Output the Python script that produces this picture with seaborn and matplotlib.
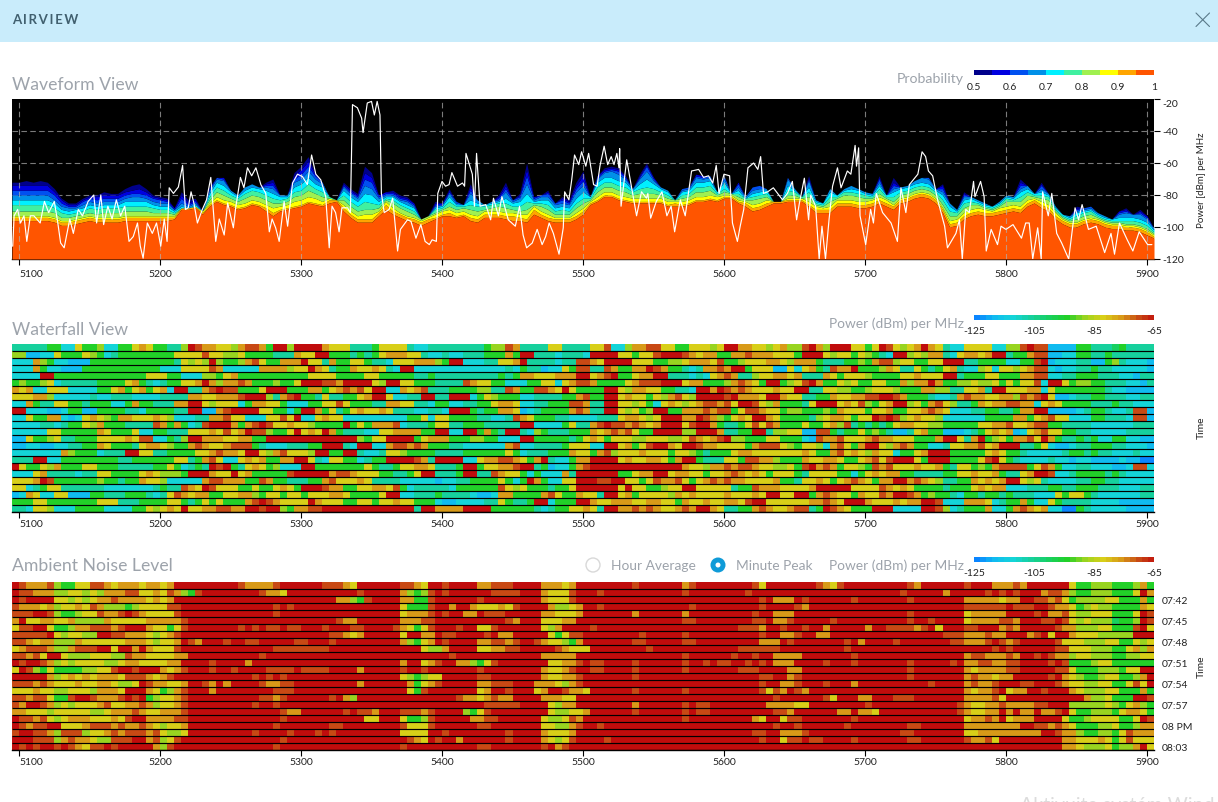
import matplotlib
matplotlib.use('Agg')
import matplotlib.pyplot as plt
from matplotlib.colors import LinearSegmentedColormap, ListedColormap
from matplotlib.patches import Circle, Rectangle
import numpy as np
import seaborn as sns

# x axis of all three panels, 5 MHz steps
freq_start = 5095
freq_step = 5
freq_ticks = [5100, 5200, 5300, 5400, 5500, 5600, 5700, 5800, 5900]
power_ticks = [-120, -100, -80, -60, -40, -20]
time_labels = ['07:42', '07:45', '07:48', '07:51', '07:54', '07:57', '08 PM', '08:03']

probability_labels = ['0.5', '0.6', '0.7', '0.8', '0.9', '1']
power_scale_labels = ['-125', '-105', '-85', '-65']
power_scale_steps = list(range(-125, -65, 2))
# bottom band first: 1, .95, .9 ... .5
band_colors = ['#ff5500', '#ffa500', '#ffff00', '#a0f050', '#40f0a0',
               '#00f0ff', '#0090e8', '#0050f0', '#0000e0', '#00008b']
power_colors = ['#0a85ff', '#10bcf0', '#14d4d8', '#16d09c', '#18d060', '#20d028',
                '#98d420', '#d8d018', '#d89a18', '#c84a14', '#c00c0c']

# dBm at top of the solid orange area, one value every 5 MHz
orange_top = [
    -96, -96, -96, -96, -96, -96, -97, -99, -99, -98, -97, -96, -97, -97, -97, -97, -96, -96, -96, -96,
    -96, -96, -96, -95, -89, -89, -88, -92, -87, -84, -86, -87, -89, -88, -86, -87, -90, -93, -90, -89,
    -88, -87, -85, -86, -87, -85, -84, -90, -94, -97, -97, -97, -93, -89, -92, -94, -96, -97, -99, -97,
    -95, -93, -93, -94, -93, -96, -97, -94, -94, -94, -95, -96, -96, -97, -92, -94, -96, -97, -97, -97,
    -95, -92, -86, -84, -81, -81, -83, -84, -85, -85, -85, -85, -85, -87, -87, -87, -86, -84, -84, -83,
    -84, -82, -82, -85, -87, -90, -89, -87, -85, -85, -84, -84, -84, -87, -91, -91, -91, -87, -87, -87,
    -88, -88, -87, -85, -87, -89, -85, -84, -82, -81, -82, -85, -91, -100, -99, -95, -93, -92, -93, -93,
    -92, -91, -90, -91, -87, -85, -88, -90, -95, -98, -100, -100, -98, -97, -98, -100, -101, -101, -102, -102,
    -103, -105, -107,
]

# dB thickness of the nine bands above orange at each 5 MHz step (one digit per band)
band_spread = """
213433332 213433332 213433333 213433332 213433333 213433332 213332322 212322221 212222111 212221111
212222211 212322211 212322221 213322222 213322221 213322221 213332222 213333223 213333233 213332222
212322211 212222211 212222111 111111010 100012322 100001112 100011111 110000000 112222110 123332100
123333110 122221000 122211000 123322000 123322000 123321000 223332111 233333222 122221000 122211000
133333222 133343332 134444333 133333211 123332100 210100000 100000000 223332111 223332111 223332111
233555444 233454433 212222110 321111110 223221111 213221111 213222111 212221110 211000000 211000000
121211111 121111010 222332111 122211100 122110000 223334222 223322000 221210000 222211000 223211111
223334222 322221100 222332111 233556544 321111110 223222100 223332211 212222100 212322211 212222111
223334222 223344333 111110000 123332110 123333111 123334111 123334211 123332110 122211000 123333111
123455311 123332110 122221000 122221000 211000000 122221100 122221100 123333110 123332110 123332100
121110000 112242200 111000000 112222210 211101000 223222200 223222200 222221000 100000000 100000000
112334100 112211000 110100000 123334111 221111000 211110000 223332000 221110000 223211000 223222000
223221000 222211000 221111000 222322211 221110000 212332223 212221000 212221000 212222000 212223000
212223100 212211000 212332221 223332000 222211000 223322111 223221000 222111000 221111000 211110000
221111000 223211000 222111000 223332222 223222000 211110000 222222211 223211000 221111000 211110000
211111000 212221111 212211100 212211100 211111000 211111000 211110000 211122110 211223111 211222000
211223111 211222110 111111000
""".split()

# white peak trace, (MHz, dBm)
white_trace = [
    (5095.5, -112), (5096.5, -93), (5099, -89), (5101, -97.5), (5103.5, -93), (5105.5, -109), (5108, -93),
    (5110.5, -93), (5115, -97.5), (5118, -84), (5121, -91), (5125, -84), (5127.5, -97.5), (5129.5, -110),
    (5132, -113), (5134, -104), (5136, -95), (5138.5, -104), (5142, -89), (5145, -93), (5149, -84),
    (5153, -80), (5155, -97.5), (5158, -80), (5160, -98.5), (5163, -87), (5166, -95), (5169, -83),
    (5172, -93), (5175, -87), (5178, -109), (5181, -106), (5184, -97.5), (5186, -112), (5188, -119.5),
    (5191, -97.5), (5194.5, -104), (5197.5, -97.5), (5200.5, -112), (5203, -95), (5205, -109), (5206.5, -75.5),
    (5209.5, -79), (5213, -75), (5216, -61.5), (5218, -89), (5220, -88), (5222, -78), (5224, -85),
    (5226.5, -97.5), (5230, -89), (5233, -83), (5236, -69), (5239.5, -109), (5242, -95), (5245.5, -105),
    (5248, -85), (5252, -100.5), (5253.5, -89), (5257, -69), (5259.5, -75.5), (5262, -63), (5265, -68),
    (5268, -63), (5271.5, -73.5), (5275, -79), (5277.5, -103), (5279.5, -95), (5282, -100.5), (5284.5, -109),
    (5288, -84), (5290.5, -99.5), (5294, -72.5), (5297.5, -67), (5301, -68.5), (5304.5, -73.5), (5307.5, -55),
    (5310.5, -67), (5314, -70.5), (5317.5, -81), (5320, -113), (5322, -87), (5324.5, -91), (5327, -103),
    (5329, -88), (5333, -88), (5335, -91), (5336.5, -23.5), (5340, -25.5), (5343, -32), (5344, -41),
    (5347, -22.5), (5350, -21.5), (5352, -30), (5354, -21.5), (5356, -30), (5357, -79), (5359, -91),
    (5362.5, -89), (5365, -82), (5368.5, -115), (5370.5, -101.5), (5375.5, -95.5), (5378, -96.5), (5381.5, -107),
    (5385, -98.5), (5388, -109), (5391, -111), (5393, -108), (5396, -109), (5397, -79), (5400, -71.5),
    (5402.5, -74.5), (5405, -73.5), (5407, -66), (5411, -74.5), (5414.5, -72.5), (5416, -74.5), (5417, -54),
    (5421.5, -67), (5423, -87), (5424.5, -54), (5427, -87), (5431, -86), (5434.5, -95.5), (5436.5, -82),
    (5440, -93), (5442.5, -81), (5447, -95.5), (5452, -99.5), (5455, -87), (5457.5, -105), (5460, -113),
    (5464, -110), (5467.5, -101.5), (5471, -111), (5473.5, -106), (5476, -97.5), (5479, -104), (5483, -117),
    (5486, -100.5), (5487, -78), (5490, -83), (5492, -70.5), (5494, -55), (5497, -61), (5499, -53),
    (5502, -62), (5504, -54), (5507.5, -73.5), (5510, -74.5), (5512, -62), (5515, -49.5), (5517.5, -61),
    (5520, -56), (5522, -61), (5524, -54), (5525.5, -63), (5526, -51), (5527, -87), (5531, -58),
    (5534.5, -75.5), (5538, -93), (5541.5, -78), (5545, -82), (5546, -79), (5548, -94.5), (5552, -84),
    (5556, -78), (5559.5, -93), (5562.5, -87), (5565, -103), (5569, -83), (5572.5, -93), (5577, -65),
    (5582, -64), (5585.5, -69), (5589, -68), (5592, -72.5), (5594.5, -61.5), (5596.5, -79), (5600, -67),
    (5604, -68), (5606, -97.5), (5609.5, -109), (5611.5, -99.5), (5614, -89), (5617, -63), (5621, -60),
    (5624, -64), (5626, -56), (5628, -79), (5631, -78), (5635, -75.5), (5641.5, -83), (5645, -79),
    (5648.5, -71.5), (5651.5, -95.5), (5653.5, -85), (5657, -69.5), (5660, -95.5), (5661.5, -80), (5665, -87),
    (5667.5, -120), (5669.5, -99.5), (5672, -120), (5674.5, -95.5), (5677, -74.5), (5680.5, -63), (5683, -75.5),
    (5687.5, -65), (5690, -67), (5693, -49), (5694, -62), (5695.5, -50.5), (5696.5, -93), (5700.5, -111),
    (5704, -89), (5706, -97.5), (5708, -79), (5712.5, -91), (5718.5, -97.5), (5723, -109), (5725.5, -75.5),
    (5729, -91), (5731.5, -73.5), (5737.5, -67), (5740.5, -53), (5743, -56), (5745, -65), (5748, -68),
    (5751.5, -83), (5756.5, -99.5), (5758.5, -113), (5764.5, -104), (5767, -95.5), (5769, -120), (5771.5, -89),
    (5774, -91), (5777, -71.5), (5778, -81), (5782, -71.5), (5784.5, -81), (5786, -115), (5789.5, -101.5),
    (5794, -111), (5796.5, -99.5), (5800, -101.5), (5805, -98.5), (5811, -107), (5814, -97.5), (5816.5, -97.5),
    (5819, -120), (5822.5, -100.5), (5825, -120), (5826, -78), (5830, -93), (5832.5, -79), (5836, -104),
    (5839.5, -110), (5844.5, -120), (5849, -88), (5851.5, -95.5), (5854, -86), (5858.5, -101.5), (5864, -99.5),
    (5870, -116), (5874.5, -104), (5877, -117), (5880.5, -97.5), (5886, -108), (5890, -115), (5894.5, -103),
    (5900.5, -111), (5903.5, -111),
]

# heatmap rows: one hex digit per 5 MHz cell, power = -125 + 6 * digit
waterfall_rows = [
    "3333355227 5562255787 55336a9887 7689985aa6 aaaa877733 3577773223 3333333566 9833337733 3377922688 9977557776 7aa8877678 669a86aaa7 757a97678a 8732277772 2669a99111 1553334533 33",
    "6611227555 7652355555 5557777977 6675555333 877aa55535 3578887732 2322333555 85aa333233 32aaaa7757 79aaa98788 5588988877 75aaa76775 76532aa676 883278878a a355899112 2553353333 33",
    "2228652211 1555555555 555376 76a6 5568975588 8a77385577 5332777888 65aa222337 78a3333233 9987aaaa77 7556678887 9556777887 6888533355 6589967755 77aaa33555 522559a122 2331156322 21",
    "2228522111 5555555555 5222777798 2222288886 77a8735587 78732aa222 2222222222 3253312275 9933985588 a985532388 98aa577711 727853988a 5556873375 3578322672 7767899212 2335332222 21",
    "2222aa5555 5555555557 7755222665 7855555555 5577775555 7755555335 3333333335 3588777888 aa789a5578 8aa3332327 8983367788 7833387577 7655557787 77aa355577 5558899223 3555333221 33",
    "5655672333 3355557853 2355778a86 8898555655 7aaa998aaa a76aa77555 3333987755 2225577278 9985555789 99aaa78855 5689875aa5 679a855767 5577558688 a855667667 575779 2aa7 5665533322 13",
    "8782277722 2255785785 782aa3389a 995557aaa5 5588578989 7aa2287893 3355556633 9855998 7a7 5555aa7688 7755332aa8 a989877787 7aa3377665 5677765558 866337783a a777882755 5555532211 11",
    "7778862222 2322333222 2333388778 889aaa6389 a553733557 8aa72233aa 33aaa25765 5522333355 8955aa7877 57689 76aaa a9a8887aa8 7733558778 899aa98555 3223898877 8869 89a711 2335533322 33",
    "2285337755 3555225855 33388aa767 7725887752 2255779755 5338877332 5522335578 8722335559 9833aa7767 5278767899 897aa97685 5537aaa787 96578aa675 8976335878 8998827875 5553335332 22",
    "aa22211255 1155553325 55533aa118 9aaaa77552 5aa8573578 7787333223 32aaa53558 8712355558 9833aa7675 6aa5588898 9957998775 6655565877 7577855778 9872223355 33588aa111 1235532239 91",
    "2275588212 7876588777 8762223388 9772227797 a227877222 2222225572 7755553322 3987555332 2223337887 67aaa88a98 65787aa875 5553678875 77a9a96787 7622222255 5588578977 2225533329 91",
    "2222332355 7685553333 9858523 9aa a8589a9778 7765555a57 5888923335 7733555333 33aa222257 3389a99898 78aaa79aa8 5335797985 5575578693 5353578877 6655555778 8977899553 3332222223 33",
    "2222277555 5587555722 5533377787 978a996557 a787a85333 2277888855 aa22aa5853 aa32653335 5587898975 5aaaa66aaa 83355aa366 7711995355 7565311378 5511123578 7812789775 5332222233 33",
    "1175567335 5577778799 22536aa888 778855aaaa aaaaaaaaa6 577aaaa578 8855566552 22aa555553 5787577766 7776679878 9a66555775 5521988977 7898877755 58aa738a56 7588 97a853 3535225522 11",
    "1122112233 5587555378 8765589877 8999532223 3355aaa32a a228998985 5533222222 8922333357 7722aa7857 9aa87aa988 7777589997 6577628975 8aa7689855 2237788978 aaa3357211 2335553322 21",
    "2222222865 5523 33aa77 3355557789 887aa76897 776aa55aa3 2237765555 3333555555 7523335558 7758967778 7775776535 5578877777 7787558978 7687725578 aaa5555578 7553222223 5535332223 22",
    "333aa22555 5555533555 5557735897 2278785588 aa73277552 355aaaa983 aaaa227889 98758a3225 88aaaa7877 88758aa533 3775998865 5587788755 78979aaa75 aaa555579a 7532222322 1221111211 00",
    "a755768555 7755533333 5575235 3a9 a537875622 2aa5555555 7533577887 3335aa5778 89aa351225 89aaaaaaaa aaaaa87768 8989987766 759a898577 6598977787 7853775658 9999579852 2332221129 92",
    "2227833332 3377555578 76665aaa87 7a78555559 aaaaa89987 77553357aa 3335aa3398 7752522283 aaaaaa5578 8aa7887757 7898787577 7537777552 5787885533 3355778778 53378aa922 3555535322 22",
    "7778a95555 5565535587 7622222899 8885598553 3355897778 7333322222 1223355557 525a852277 aaa99aa775 7988975789 8988777785 5377875789 87588aa898 7633558787 8aa7673222 2335533222 22",
    "7723577333 3332222222 3533987a97 7755755787 5aaa988557 7887952333 3325555559 7675553557 aaaaaa7a77 55677aa777 7735598887 7778aaaaa7 7779878755 5535557878 8222333553 3555333222 33",
    "1287227711 1553335553 2379878855 7788657757 7577788755 557aa22333 5333321128 8555589755 8773aa7857 7776878777 7877787aa7 7aa5898775 87798aa985 6553255355 3533322275 7753222222 33",
    "5557755555 5577733355 5577535757 5558 9a9877 77a8777557 7577877555 2112222337 5335aa2555 aa87788877 8877587787 78879aa777 7778898 7aa a87778788a a922288872 3558522753 3332222111 11",
    "3327762225 5552222557 6787a77889 988aa9aa65 8899aaaaaa aaaaaaa3aa 8888aaaa55 5555323557 7873aa8898 9877898aa8 7335589877 89935a9875 55aaa2222a a962355582 2589878220 0532222211 11",
]

ambient_rows = [
    "a988896557 7998788878 878aaaaaaa aa988889aa aaaa99987a aaaaa9987a a9aaaa8899 9aaaa88878 aaaaaaaa9a aaaaa89aaa aaaaa97aaa aaaa9879aa aaaaaaa98a aaaaa9aaa8 8898aaaaaa 7556665556 85",
    "a998886677 6768889977 8798659aaa aaaaa9887a aaaaaaaaa9 aaaaa86569 a9aaaaaa99 99aaa87779 aaa9aaaaaa aaaaa9aaaa aaaa9aaaaa aaaaaaaaaa aaaaaa9aaa aa8aaaaa9a 9a9aaa8998 6556665557 a8",
    "a9aaaa7767 6788988887 878aaaaaaa aaaaaaaaaa aaaaaa8865 9aaaa88559 aaaaaa9aaa aaaaa87779 aaaaaaaaaa aaaaaaaaaa aaaaaa9a88 8a9aaaaaa9 aaaaaaa9aa aaaaa88888 788aa99897 5666677555 85",
    "9888786778 7986665677 7799aaaaaa aaaaaaa9a9 aaaaaaaaaa aaaaa75559 aa8aa87778 79aaaa8667 8aa9aaaaaa aaaaaa9aaa aaaaaa9aaa a98aaaaaaa aaaaaaaaaa aaaaa99999 9a999aa988 7567665555 87",
    "999aa96556 779889a987 7779aaaaaa aaaaaaa9aa aaaaaaaaaa aaaaa78889 a9aa88a999 aaaaa88777 8aaaaaaa8a aaaaa8aaaa aaaaa9aa88 8aaaaaaaaa aaaaaaa9aa aaaaa78888 8aaaa9a889 7667775557 a9",
    "8a77887786 6668777778 88889aaaaa aaaaaaaaaa aaaaaa988a aaaaa88899 aaaaaaaaaa 98aaa77788 aaaaaaaaaa aaaaa99aaa aaaaa99a88 9aaaaa9aaa aaaaaaa9aa 9aaaa78888 998aaa99a9 7676664556 a9",
    "799aa75568 899989aaa8 77579aaaaa aa9a9a99a9 9aaa9aaa99 aaaa987579 aaa9aa779a aaaaa768aa aa9aaaaaaa aaaaaaaaaa aaa9998aa9 aa9aa8aaaa a8aa999989 a7aaa99aaa 898aaaaa98 8666775559 a7",
    "99999a7677 66aa998887 6789aaaaaa aaaaaaaaaa aaaaa99878 aaaaa7aa88 a99aaaa9a8 8aaaaa7579 9aaaaaaaa9 aaaaa9aaaa aaaaaa9aa8 89aa88aaaa aaaaaaaaaa aa99988898 8aaa89a7aa 877766666a aa",
    "9987886668 7777778887 6778a98aaa 9aa99aaaaa 99aaa9aaaa aaaaa86578 a9aaaa8899 89aa987765 8aaaaaaa99 aaaaa99aaa aaaaaa888a 9aaaaaaa9a 8aaaa9aaaa aaa998889a 989aaaaa97 7766677557 67",
    "7899986689 99aa7aa8a8 7779aaaaaa aaaaaaa999 99999aaaaa aaaaaaaa76 68aaaa7788 99aaaaa987 77aaaaaaaa 9aaaaaaaaa aaa999999a aaaaaaaa9a aaaaaaaaaa aaaaaaaaa9 a9aaaaaa99 7776665578 68",
    "99897aa766 6777669887 77788aaaaa aaaaa9aaaa aaaaaaaaaa aaaaaaaaaa aa9aaaaaaa aaaaa88888 aaaaaaaaaa aaaaa9aaaa aa9aa9aa88 88aaaaaaa9 aaaaaaaaaa aaaaa89988 898aa9a988 6776665566 77",
    "a9aa986767 7776678877 7788aaaa9a aaa8aaaaaa aaaaaaaaaa aaaaa8aa78 9aa886579a aaaaaa7788 9a99aaaa9a aaaaa9aa9a 99aa9a9a88 8aaaa9aaa9 aaaaaaa9aa aaa9a88998 899aaaa9a9 5556775555 55",
    "7a96575555 66779aa9aa a8789aaa9a a9aaaa9999 a9999aaaa8 aaaaa9aa9a aaaaaa9aaa aaaaa87789 aa99aaaa9a aaaaa9aaaa aaa999aaaa 88aaaaaaaa aaaaaaa9aa aaaaa87888 899aaaaa99 7555666577 aa",
    "aaaaa86787 8788879998 789aaaaaaa aaaa9a9a9a aaaaaaaaaa aaaaa76567 7aaaaa99aa aaaaa87788 9aaaaaaa9a aaaaaaaaaa aaaaaa99aa 89aaaaaaaa aaaaaaa9aa aaaaa89887 88aaaaa9a8 7655677556 8a",
    "9998987778 77887667a9 88778aa98a 8aaaa98899 aaaaaaaaa8 aaaaaa8578 9aaaaa8899 9aaa888768 9aaaaaaaaa aaaaaaaaaa aaaaaa9aa8 89aaa9aaa8 aaaaaaaaaa 9aaaa89889 aaa99aaa98 7766775579 7a",
    "7778776677 768887aaa8 75689aaa8a aaaaaaa999 aaaaaaaaaa aaaaaa759a aaaaaa78aa 9aaa78aa98 87aaaaaa9a aaaaa9aaaa aaaaaa9798 a98aaaaaaa aaaaaaaaaa aaaaa87889 a788aa9aaa 8766677555 85",
    "998997559a a98889a9a5 67789aaaaa aaaaa9989a aaaaa9a86a aaaaaaaaaa aaa9887898 8aaaa88877 aaaaaaaaaa aaaaaaaaaa aaaaaaaa9a aaaaa97aaa 88aaa999aa aaaaa88889 7aaaaaaaaa aa8667555a a9",
    "98aa986767 7789778898 67789aaaaa aaaa9aa9aa aaaaaaaaaa aaaaaaaaaa aaaaaaa999 99aaaa7688 aaaaaaaa8a aaaaa9a99a aaaaaaa888 877aaaaaaa a9aaaaaaaa aaaa987788 9888899aaa 6666676578 65",
    "8877767777 7667888987 78889aaaaa aaaaaaaa98 8aaaaaa9a9 98aaa99989 aaaa6579aa aaaaaa7667 78aaaaaa9a aaaaa9a99a aaaaaaaa99 8aaaaaa88a 887aaaaaaa aaaa987788 a8a88a889a 7556665788 75",
    "a998976788 8777879aa8 88899aaaaa aaaaaaaa9a aaaaaaaaaa 77aaa75569 aaaaa8899a aaaaa76679 8aaaaaaaaa aaaaa9aaaa aaaaa87aa7 99aaaaaaa9 aaaaaaaaaa aaaaa78898 a7888aaaa7 5567777557 a9",
    "a9899aa777 8999898898 76778aaaaa aaaaaaa9aa aaaaa99aaa aaaaa97779 aaaaaa99aa aaaaa77668 9aa9aaaaaa aaaaaaaaaa aaaaaaaa9a a9aaaaaa9a aaaaaaa99a aaaaa88888 888aa99898 7555667556 88",
    "9aa9986999 6778989998 97667aaaaa aaaa9aaaa9 aaa9a9aaaa aaaaa7777a a9aaaaaaaa 9aaaa87778 aaaaaaaaaa aaaaaaaaaa aaaaa99aa8 889aaaaaaa aaaaaa99aa aaaaa77888 888888aa98 8655665798 88",
    "aaa9996898 8766999aa8 9679aaaaaa aaaaaaaa9a aaaaaaaaaa aaaaaa987a 9aa8aaaaaa 9aaaa87679 aaaa9aaaaa aaaaaaaaaa aaaaaa9aa7 99a99aaaa9 aaaaaaa99a aaaaa98897 aaaaaaaaa8 8777875797 77",
    "a9a9aa9a98 799a9aaaaa 869aaaaaaa aaaaaaa9aa aaaaaaaaaa aaaaa9aaaa aaaaaa99aa aaaaa9a89a aaaaaaaaaa aaaaaaaaaa aaaaaaaaaa aaaaaaaaaa aaaaaaaaaa aaaaaaaaaa aaaaaaaaa8 8766675668 a7",
]

n_cols = 162


def row_to_power(row):
    # -125 + 6 per digit, short rows filled with the last cell
    cells = row.replace(' ', '')
    cells = cells[:n_cols].ljust(n_cols, cells[-1])
    return [-125 + 6 * int(c, 16) for c in cells]


FIG_W, FIG_H = 1218, 803
TEXT_GREY = '#9da3ab'
FONT = ['Lato', 'DejaVu Sans']

sns.set_style('white')
plt.rcParams['font.family'] = FONT
plt.rcParams['axes.unicode_minus'] = False

fig = plt.figure(figsize=(FIG_W / 100, FIG_H / 100), dpi=100, facecolor='white')


def px_axes(left, top, right, bottom):
    return fig.add_axes([left / FIG_W, 1 - bottom / FIG_H, (right - left) / FIG_W, (bottom - top) / FIG_H])


# overlay in pixel coordinates for the page furniture
page = fig.add_axes([0, 0, 1, 1], zorder=5)
page.set_xlim(0, FIG_W)
page.set_ylim(FIG_H, 0)
page.axis('off')
page.patch.set_alpha(0)

page.add_patch(Rectangle((0, 0), FIG_W, 42.5, color='#c9ecfb', lw=0))
page.text(12, 20.5, '\u2009'.join('AIRVIEW'), fontsize=9.5, fontweight='bold', color='#41606f', va='center')
page.plot([1196, 1209.5], [14, 27.5], color='#5a7a8a', lw=0.8)
page.plot([1196, 1209.5], [27.5, 14], color='#5a7a8a', lw=0.8)
page.text(1020, 806, 'Aktivujte systém Wind', fontsize=14, color='#dcdcdc', va='center')

page.text(12, 85, 'Waveform View', fontsize=12.7, color=TEXT_GREY, va='center')
page.text(12, 330, 'Waterfall View', fontsize=12.7, color=TEXT_GREY, va='center')
page.text(12, 566, 'Ambient Noise Level', fontsize=12.7, color=TEXT_GREY, va='center')
page.text(964, 79, 'Probability', fontsize=10.2, color=TEXT_GREY, va='center', ha='right')
page.text(964, 324, 'Power (dBm) per MHz', fontsize=9.9, color=TEXT_GREY, va='center', ha='right')
page.text(964, 566, 'Power (dBm) per MHz', fontsize=9.9, color=TEXT_GREY, va='center', ha='right')

page.add_patch(Circle((593, 566), 7, fc='white', ec='#d8d8d8', lw=1))
page.text(611, 566.5, 'Hour Average', fontsize=9.9, color=TEXT_GREY, va='center')
page.add_patch(Circle((718, 566), 7.5, fc='#0f9bd8', ec='#0f9bd8', lw=0))
page.add_patch(Circle((718, 566), 2.5, fc='white', lw=0))
page.text(736, 566.5, 'Minute Peak', fontsize=9.9, color=TEXT_GREY, va='center')


def style_freq_axis(ax, positions, pad=3):
    ax.set_xticks(positions)
    ax.set_xticklabels(freq_ticks, fontsize=7.5, rotation=0)
    ax.tick_params(axis='x', bottom=True, length=4, width=0.8, pad=pad, color='black', labelcolor='#222222')
    labels = ax.get_xticklabels()
    labels[0].set_ha('left')
    for side in ['top', 'left', 'right']:
        ax.spines[side].set_visible(False)
    ax.spines['bottom'].set_visible(True)
    ax.spines['bottom'].set_color('black')
    ax.spines['bottom'].set_linewidth(1)


# waveform view
ax = px_axes(12, 100, 1154, 260)
ax.set_facecolor('black')
freqs = [freq_start + freq_step * i for i in range(len(orange_top))]
spread = np.array([[int(c) for c in token] for token in band_spread], dtype=float)
n = min(len(freqs), len(spread))
tops = np.cumsum(np.column_stack([np.array(orange_top[:n], dtype=float), spread[:n]]), axis=1)
ax.fill_between(freqs[:n], -120, tops[:, 0], color=band_colors[0], lw=0, zorder=3)
for i in range(1, tops.shape[1]):
    ax.fill_between(freqs[:n], tops[:, i - 1], tops[:, i], color=band_colors[i], lw=0, zorder=2)
ax.set_xlim(5095, 5905)
ax.set_ylim(-120, -20)
for level in power_ticks[1:-1]:
    ax.axhline(level, color='#7a7a7a', lw=0.8, ls=(0, (5, 3)), zorder=1)
for f in freq_ticks:
    ax.axvline(f, color='#b0b0b0', lw=0.8, ls=(0, (5, 3)), alpha=0.7, zorder=4)
white_freq = [p[0] for p in white_trace]
white_power = [p[1] for p in white_trace]
sns.lineplot(x=white_freq, y=white_power, ax=ax, color='white', lw=0.85, sort=False, estimator=None,
             errorbar=None, zorder=5)
style_freq_axis(ax, freq_ticks)
ax.yaxis.tick_right()
ax.set_yticks(power_ticks)
ax.set_yticklabels(power_ticks, fontsize=7.5)
ax.tick_params(axis='y', right=True, left=False, length=4, width=0.8, pad=2, color='black', labelcolor='#222222')
ax.get_yticklabels()[-1].set_va('top')
page.text(1201, 180, 'Power [dBm] per MHz', fontsize=7, rotation=90, va='center', ha='center', color='#222222')


def draw_cells(rows, top):
    ax = px_axes(12, top, 1154, top + 168)
    grid = np.array([row_to_power(r) for r in rows])
    sns.heatmap(grid, ax=ax, cmap=power_cmap, vmin=-125, vmax=-65, cbar=False, xticklabels=False, yticklabels=False)
    ax.hlines(range(1, len(rows) + 1), 0, n_cols, color='black', lw=0.85)
    style_freq_axis(ax, [(f - freq_start) / freq_step for f in freq_ticks], pad=1)
    return ax


power_cmap = LinearSegmentedColormap.from_list('power', power_colors)
draw_cells(waterfall_rows, 345)
page.text(1201, 428, 'Time', fontsize=7.5, rotation=90, va='center', ha='center', color='#222222')

ambient_ax = draw_cells(ambient_rows, 583)
ambient_ax.yaxis.tick_right()
ambient_ax.set_yticks([2.5 + 3 * i for i in range(len(time_labels))])
ambient_ax.set_yticklabels(time_labels, fontsize=7.5, rotation=0)
ambient_ax.tick_params(axis='y', right=False, left=False, pad=2, labelcolor='#222222')
page.text(1201, 667, 'Time', fontsize=7.5, rotation=90, va='center', ha='center', color='#222222')


# colour scales above the panels
def draw_scale(values, cmap, vmin, vmax, top, labels, label_y):
    scale_ax = px_axes(974, top, 1154, top + 5)
    sns.heatmap([values], ax=scale_ax, cmap=cmap, vmin=vmin, vmax=vmax, cbar=False,
                xticklabels=False, yticklabels=False)
    for i, text in enumerate(labels):
        page.text(974 + 180 * i / (len(labels) - 1), label_y, text, fontsize=7.5, ha='center', va='center',
                  color='#222222')


draw_scale(list(range(len(band_colors))), ListedColormap(band_colors[::-1]), 0, len(band_colors) - 1, 71,
           probability_labels, 87)
draw_scale(power_scale_steps, power_cmap, -125, -65, 316, power_scale_labels, 332)
draw_scale(power_scale_steps, power_cmap, -125, -65, 558, power_scale_labels, 574)

fig.savefig('out.png', dpi=100, facecolor='white')
